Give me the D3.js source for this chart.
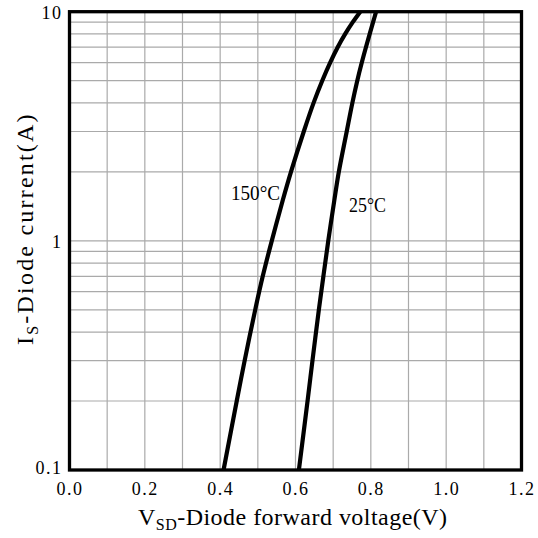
<!DOCTYPE html>
<html><head><meta charset="utf-8">
<script src="https://cdn.jsdelivr.net/npm/d3@7"></script>
<style>body{margin:0;background:#fff}svg{display:block}</style>
</head><body><svg id="c" width="538" height="538"></svg>
<script>
const xTicks = [0.0, 0.2, 0.4, 0.6, 0.8, 1.0, 1.2];
const xTickLabels = ["0.0", "0.2", "0.4", "0.6", "0.8", "1.0", "1.2"];
const yTicks = [0.1, 1, 10];
const yTickLabels = ["0.1", "1", "10"];
const i150 = [0.1, 0.2, 0.3, 0.5, 0.7, 1, 1.5, 2, 3, 4, 5, 6, 7, 8, 9, 10];
const v150 = [0.409, 0.444, 0.465, 0.493, 0.513, 0.537, 0.566, 0.588, 0.622, 0.648, 0.671, 0.692, 0.712, 0.732, 0.752, 0.772];
const i25 = [0.1, 0.2, 0.3, 0.5, 0.7, 1, 1.5, 2, 3, 4, 5, 6, 7, 8, 9, 10];
const v25 = [0.609, 0.632, 0.645, 0.662, 0.674, 0.687, 0.703, 0.715, 0.736, 0.751, 0.764, 0.776, 0.787, 0.797, 0.806, 0.814];
const seriesLabels = ["150°C", "25°C"];

const svg = d3.select("#c");
const L = 69.5, R = 521.5, T = 11.7, B = 470;
const x = d3.scaleLinear().domain([0, 1.2]).range([L, R]);
const y = d3.scaleLog().domain([0.1, 10]).range([B, T]);
const font = "'Liberation Serif', 'DejaVu Serif', serif";

// grid
const g = svg.append("g");
const xGrid = d3.range(1, 12).map(i => i / 10);
g.selectAll("line.vx").data(xGrid).join("line")
  .attr("x1", d => x(d)).attr("x2", d => x(d)).attr("y1", T).attr("y2", B)
  .attr("stroke", "#aaa").attr("stroke-width", 1.2);
const yGrid = [];
[0.1, 1].forEach(dec => { for (let k = 2; k <= 9; k++) yGrid.push(dec * k); });
yGrid.push(1);
g.selectAll("line.hy").data(yGrid).join("line")
  .attr("x1", L).attr("x2", R).attr("y1", d => y(d)).attr("y2", d => y(d))
  .attr("stroke", "#aaa").attr("stroke-width", 1.2);

// curves
const line = d3.line().x(d => x(d[0])).y(d => y(d[1])).curve(d3.curveCatmullRom.alpha(0.5));
[[v150, i150], [v25, i25]].forEach(([vs, is]) => {
  svg.append("path").datum(vs.map((v, k) => [v, is[k]]))
    .attr("d", line).attr("fill", "none").attr("stroke", "#000").attr("stroke-width", 4.2);
});

// frame
svg.append("rect").attr("x", L).attr("y", T).attr("width", R - L).attr("height", B - T)
  .attr("fill", "none").attr("stroke", "#000").attr("stroke-width", 3.3);

// axes via d3 axis (ticks hidden, labels only)
const xAxis = svg.append("g").attr("transform", `translate(0,${B})`)
  .call(d3.axisBottom(x).tickValues(xTicks).tickSize(0).tickPadding(0)
    .tickFormat((d, k) => xTickLabels[k]));
xAxis.select(".domain").remove();
xAxis.selectAll("text").attr("dy", null).attr("y", 25)
  .attr("font-family", font).attr("font-size", 18).attr("letter-spacing", 1.5)
  .attr("fill", "#000");

const yAxis = svg.append("g").attr("transform", `translate(${L},0)`)
  .call(d3.axisLeft(y).tickValues(yTicks).tickSize(0).tickPadding(0)
    .tickFormat((d, k) => yTickLabels[k]));
yAxis.select(".domain").remove();
yAxis.selectAll("text").attr("dy", "0.36em").attr("x", -7)
  .attr("font-family", font).attr("font-size", 18).attr("letter-spacing", 1.5)
  .attr("fill", "#000");
yAxis.selectAll(".tick").filter(d => d === 0.1).select("text").attr("dy", "0.2em");

// series labels
svg.append("text").attr("x", 231).attr("y", 200).attr("font-family", font)
  .attr("font-size", 22).attr("textLength", 49).attr("lengthAdjust", "spacingAndGlyphs")
  .text(seriesLabels[0]);
svg.append("text").attr("x", 349).attr("y", 212).attr("font-family", font)
  .attr("font-size", 22).attr("textLength", 37).attr("lengthAdjust", "spacingAndGlyphs")
  .text(seriesLabels[1]);

// axis titles
const xt = svg.append("text").attr("x", 138).attr("y", 525)
  .attr("font-family", font).attr("font-size", 24);
xt.append("tspan").text("V");
xt.append("tspan").attr("font-size", 16).attr("dy", 5).text("SD");
xt.append("tspan").attr("dy", -5).text("-Diode forward voltage(V)");
(function(){ const w = xt.node().getComputedTextLength(); const n = 29;
  xt.attr("letter-spacing", (310 - w) / n); })();

const yt = svg.append("text").attr("transform", "translate(33,345) rotate(-90)")
  .attr("font-family", font).attr("font-size", 24);
yt.append("tspan").text("I");
yt.append("tspan").attr("font-size", 16).attr("dy", 5).text("S");
yt.append("tspan").attr("dy", -5).text("-Diode current(A)");
(function(){ const w = yt.node().getComputedTextLength(); const n = 20;
  yt.attr("letter-spacing", (235 - w) / n); })();
</script></body></html>
